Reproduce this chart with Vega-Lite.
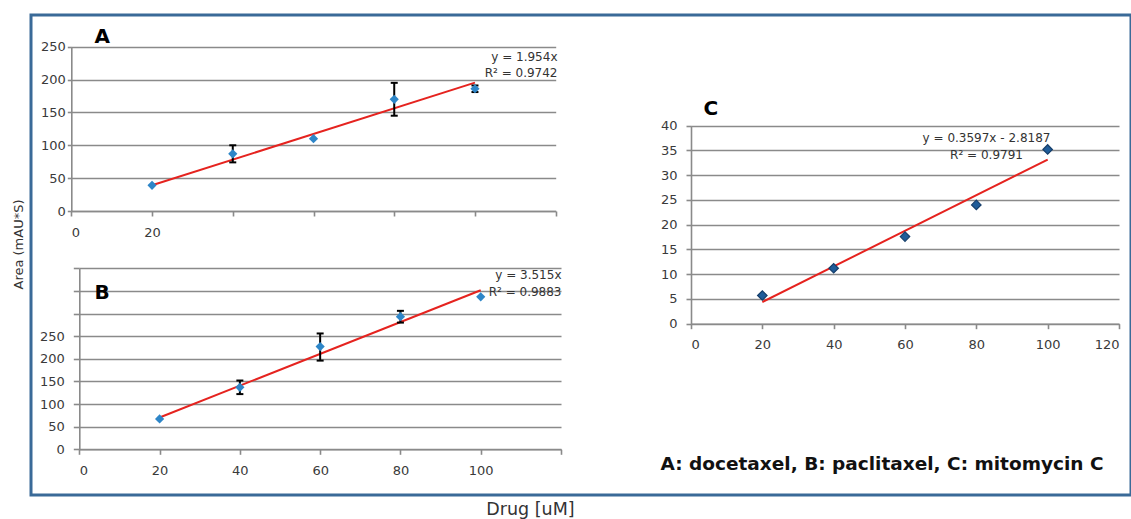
{
  "$schema": "https://vega.github.io/schema/vega-lite/v6.json",
  "width": 1100,
  "height": 480,
  "autosize": {"type": "none"},
  "padding": {"left": 31, "top": 15, "right": 0, "bottom": 24},
  "background": "white",
  "config": {
    "view": {"stroke": "#3a6a98", "strokeWidth": 3},
    "axis": {
      "domainColor": "#8a8a8a", "domainWidth": 1.6,
      "tickColor": "#8a8a8a", "tickWidth": 1.6, "tickSize": 5,
      "gridColor": "#8a8a8a", "gridWidth": 1.6,
      "labelFont": "DejaVu Sans", "labelFontSize": 13, "labelColor": "#3a3a3a",
      "labelOverlap": false,
      "titleFont": "DejaVu Sans", "titleColor": "#333333", "titleFontWeight": "normal", "titlePadding": 0
    }
  },
  "datasets": {
    "ptsA": [{"drug": 20, "area": 39}, {"drug": 40, "area": 87}, {"drug": 60, "area": 110}, {"drug": 80, "area": 170}, {"drug": 100, "area": 186}],
    "errA": [{"drug": 40, "area": 74}, {"drug": 40, "area": 100}, {"drug": 80, "area": 145}, {"drug": 80, "area": 195}, {"drug": 100, "area": 181}, {"drug": 100, "area": 191}],
    "fitA": [{"drug": 20, "area": 39.1}, {"drug": 100, "area": 195.4}],
    "ptsB": [{"drug": 20, "area": 67}, {"drug": 40, "area": 137}, {"drug": 60, "area": 227}, {"drug": 80, "area": 293}, {"drug": 100, "area": 337}],
    "errB": [{"drug": 40, "area": 122}, {"drug": 40, "area": 152}, {"drug": 60, "area": 196}, {"drug": 60, "area": 256}, {"drug": 80, "area": 280}, {"drug": 80, "area": 306}],
    "fitB": [{"drug": 20, "area": 70.3}, {"drug": 100, "area": 351.5}],
    "ptsC": [{"drug": 20, "area": 5.7}, {"drug": 40, "area": 11.2}, {"drug": 60, "area": 17.6}, {"drug": 80, "area": 24.0}, {"drug": 100, "area": 35.2}],
    "fitC": [{"drug": 20, "area": 4.38}, {"drug": 100, "area": 33.15}]
  },
  "resolve": {"scale": {"x": "independent", "y": "independent"}},
  "layer": [
    {
      "encoding": {
        "x": {"field": "drug", "type": "quantitative",
          "scale": {"domain": [0, 120], "range": [40.3, 524.7], "nice": false, "zero": false},
          "axis": {"orient": "bottom", "offset": -284, "values": [0, 20, 40, 60, 80, 100, 120], "labelExpr": "datum.value <= 20 ? datum.label : ''", "grid": false, "labelPadding": 10,
            "title": ["y = 1.954x", "R² = 0.9742"], "titleX": 526, "titleY": -159.6, "titleAlign": "right", "titleBaseline": "top", "titleAngle": 0, "titleFontSize": 12, "titleLineHeight": 16.6, "titleLimit": 0}},
        "y": {"field": "area", "type": "quantitative",
          "scale": {"domain": [0, 250], "range": [196, 31.7], "nice": false},
          "axis": {"orient": "left", "offset": -40.3, "values": [0, 50, 100, 150, 200, 250], "grid": true, "labelPadding": 2, "tickSize": 4,
            "title": "A", "titleX": 22.7, "titleY": 27.7, "titleAngle": 0, "titleAlign": "left", "titleBaseline": "alphabetic", "titleFontSize": 20, "titleFontWeight": "bold", "titleColor": "#000000"}}
      },
      "layer": [
        {"data": {"name": "fitA"}, "mark": {"type": "line", "color": "#e5231f", "strokeWidth": 2}},
        {"data": {"name": "errA"}, "mark": {"type": "line", "color": "black", "strokeWidth": 2}, "encoding": {"detail": {"field": "drug"}}},
        {"data": {"name": "errA"}, "mark": {"type": "tick", "orient": "horizontal", "color": "black", "size": 7, "thickness": 2, "opacity": 1}},
        {"data": {"name": "ptsA"}, "mark": {"type": "point", "shape": "diamond", "filled": true, "size": 85, "color": "#2e86c8", "opacity": 1}}
      ]
    },
    {
      "encoding": {
        "x": {"field": "drug", "type": "quantitative",
          "scale": {"domain": [0, 120], "range": [48.3, 530], "nice": false, "zero": false},
          "axis": {"orient": "bottom", "offset": -45.7, "values": [0, 20, 40, 60, 80, 100, 120], "labelExpr": "datum.value <= 100 ? datum.label : ''", "grid": false, "labelPadding": 10,
            "title": ["y = 3.515x", "R² = 0.9883"], "titleX": 530, "titleY": -179.5, "titleAlign": "right", "titleBaseline": "top", "titleAngle": 0, "titleFontSize": 12, "titleLineHeight": 16.7, "titleLimit": 0}},
        "y": {"field": "area", "type": "quantitative",
          "scale": {"domain": [0, 400], "range": [434.3, 253.3], "nice": false},
          "axis": {"orient": "left", "offset": -48.3, "values": [0, 50, 100, 150, 200, 250, 300, 350, 400], "labelExpr": "datum.value <= 250 ? datum.label : ''", "grid": true, "labelPadding": 9, "tickSize": 6,
            "title": "B", "titleX": 14.7, "titleY": 283.3, "titleAngle": 0, "titleAlign": "left", "titleBaseline": "alphabetic", "titleFontSize": 20, "titleFontWeight": "bold", "titleColor": "#000000"}}
      },
      "layer": [
        {"data": {"name": "fitB"}, "mark": {"type": "line", "color": "#e5231f", "strokeWidth": 2}},
        {"data": {"name": "errB"}, "mark": {"type": "line", "color": "black", "strokeWidth": 2}, "encoding": {"detail": {"field": "drug"}}},
        {"data": {"name": "errB"}, "mark": {"type": "tick", "orient": "horizontal", "color": "black", "size": 7, "thickness": 2, "opacity": 1}},
        {"data": {"name": "ptsB"}, "mark": {"type": "point", "shape": "diamond", "filled": true, "size": 85, "color": "#2e86c8", "opacity": 1}}
      ]
    },
    {
      "encoding": {
        "x": {"field": "drug", "type": "quantitative",
          "scale": {"domain": [0, 120], "range": [660, 1088], "nice": false, "zero": false},
          "axis": {"orient": "bottom", "offset": -171.3, "values": [0, 20, 40, 60, 80, 100, 120], "grid": false, "labelPadding": 10,
            "title": ["y = 0.3597x - 2.8187", "R² = 0.9791"], "titleX": 955, "titleY": -190.8, "titleAlign": "center", "titleBaseline": "top", "titleAngle": 0, "titleFontSize": 12, "titleLineHeight": 17, "titleLimit": 0}},
        "y": {"field": "area", "type": "quantitative",
          "scale": {"domain": [0, 40], "range": [308.7, 110.7], "nice": false},
          "axis": {"orient": "left", "offset": -660, "values": [0, 5, 10, 15, 20, 25, 30, 35, 40], "grid": true, "labelPadding": 9, "tickSize": 5,
            "title": "C", "titleX": 12, "titleY": 99, "titleAngle": 0, "titleAlign": "left", "titleBaseline": "alphabetic", "titleFontSize": 20, "titleFontWeight": "bold", "titleColor": "#000000"}}
      },
      "layer": [
        {"data": {"name": "fitC"}, "mark": {"type": "line", "color": "#e5231f", "strokeWidth": 2}},
        {"data": {"name": "ptsC"}, "mark": {"type": "point", "shape": "diamond", "filled": true, "size": 90, "color": "#1f5c99", "stroke": "#163f6b", "strokeWidth": 1.2, "opacity": 1}}
      ]
    },
    {
      "data": {"name": "ptsC"},
      "mark": {"type": "point", "opacity": 0},
      "encoding": {
        "x": {"field": "drug", "type": "quantitative",
          "scale": {"domain": [0, 120], "range": [0, 1100], "nice": false, "zero": false},
          "axis": {"orient": "bottom", "offset": 0, "domain": false, "ticks": false, "labels": false, "grid": false,
            "title": "Drug [uM]", "titleX": 499, "titleY": 19, "titleAlign": "center", "titleBaseline": "alphabetic", "titleAngle": 0, "titleFontSize": 17.5, "titleLimit": 0}},
        "y": {"field": "area", "type": "quantitative",
          "scale": {"domain": [0, 40], "range": [480, 0], "nice": false},
          "axis": {"orient": "left", "offset": 0, "domain": false, "ticks": false, "labels": false, "grid": false,
            "title": "Area (mAU*S)", "titleX": -13, "titleY": 229, "titleAlign": "center", "titleBaseline": "middle", "titleAngle": 270, "titleFontSize": 13, "titleLimit": 0}}
      }
    },
    {
      "data": {"name": "ptsC"},
      "mark": {"type": "point", "opacity": 0},
      "encoding": {
        "x": {"field": "drug", "type": "quantitative",
          "scale": {"domain": [0, 120], "range": [0, 1100], "nice": false, "zero": false},
          "axis": {"orient": "bottom", "offset": 0, "domain": false, "ticks": false, "labels": false, "grid": false,
            "title": "A: docetaxel, B: paclitaxel, C: mitomycin C", "titleX": 1072, "titleY": -32, "titleAlign": "right", "titleBaseline": "middle", "titleAngle": 0, "titleFontSize": 18.5, "titleFontWeight": "bold", "titleColor": "#111111", "titleLimit": 0}},
        "y": {"field": "area", "type": "quantitative",
          "scale": {"domain": [0, 40], "range": [480, 0], "nice": false},
          "axis": null}
      }
    }
  ]
}
